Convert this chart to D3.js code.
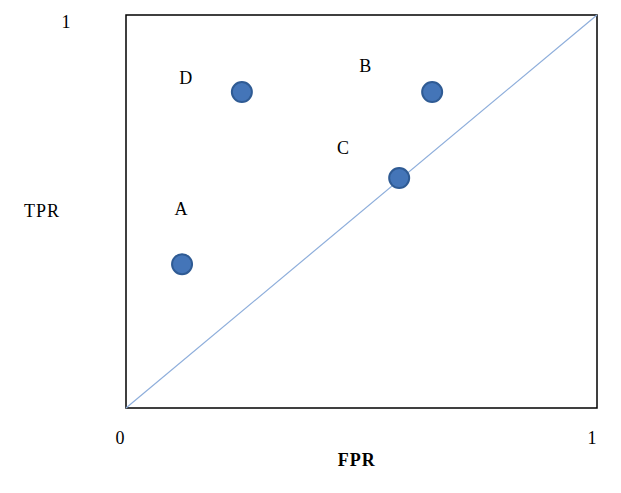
<!DOCTYPE html>
<html>
<head>
<meta charset="utf-8">
<script src="https://d3js.org/d3.v7.min.js"></script>
<style>
  body { margin: 0; background: white; }
  text { font-family: "Liberation Serif", "DejaVu Serif", serif; fill: #000; }
</style>
</head>
<body>
<svg id="roc" width="621" height="493"></svg>
<script>
// ROC space: four classifiers A-D

const names = ["A", "B", "C", "D"];
const fpr = [0.119, 0.65, 0.58, 0.246];
const tpr = [0.366, 0.804, 0.585, 0.804];
// where the letter sits (data units)
const labelX = [0.117, 0.508, 0.461, 0.127];
const labelY = [0.506, 0.87, 0.662, 0.84];
const tickLabels = ["0", "1"];

const margin = { top: 15, right: 24, bottom: 85, left: 126 };
const svg = d3.select("#roc");
const width = +svg.attr("width") - margin.left - margin.right;
const height = +svg.attr("height") - margin.top - margin.bottom;
const fs = 18;

const x = d3.scaleLinear().domain([0, 1]).range([0, width]);
const y = d3.scaleLinear().domain([0, 1]).range([height, 0]);

const g = svg.append("g")
  .attr("transform", `translate(${margin.left},${margin.top})`);

// frame
g.append("rect")
  .attr("x", x(0)).attr("y", y(1))
  .attr("width", x(1) - x(0)).attr("height", y(0) - y(1))
  .attr("fill", "none")
  .attr("stroke", "black")
  .attr("stroke-width", 1.5);

// random guess line
g.append("line")
  .attr("x1", x(0)).attr("y1", y(0))
  .attr("x2", x(1)).attr("y2", y(1))
  .attr("stroke", "#8eaedb")
  .attr("stroke-width", 1.2);

const pts = names.map((n, i) => ({ n, fx: fpr[i], ty: tpr[i], lx: labelX[i], ly: labelY[i] }));

g.selectAll("circle.pt").data(pts)
  .join("circle")
  .attr("class", "pt")
  .attr("cx", d => x(d.fx))
  .attr("cy", d => y(d.ty))
  .attr("r", 10)
  .attr("fill", "#4475b8")
  .attr("stroke", "#2f5b94")
  .attr("stroke-width", 2);

g.selectAll("text.lbl").data(pts)
  .join("text")
  .attr("class", "lbl")
  .attr("x", d => x(d.lx))
  .attr("y", d => y(d.ly))
  .attr("text-anchor", "middle")
  .attr("dominant-baseline", "central")
  .attr("font-size", fs)
  .text(d => d.n);

// axis tick labels
g.append("text")
  .attr("x", x(0) - 6).attr("y", y(0) + 30)
  .attr("text-anchor", "middle")
  .attr("dominant-baseline", "central")
  .attr("font-size", fs)
  .text(tickLabels[0]);
g.append("text")
  .attr("x", x(1) - 5).attr("y", y(0) + 30)
  .attr("text-anchor", "middle")
  .attr("dominant-baseline", "central")
  .attr("font-size", fs)
  .text(tickLabels[1]);
g.append("text")
  .attr("x", x(0) - 60).attr("y", y(1) + 7)
  .attr("text-anchor", "middle")
  .attr("dominant-baseline", "central")
  .attr("font-size", fs)
  .text(tickLabels[1]);

// axis titles
g.append("text")
  .attr("x", x(0) - 84).attr("y", y(0.5) - 1)
  .attr("text-anchor", "middle")
  .attr("dominant-baseline", "central")
  .attr("font-size", fs)
  .attr("letter-spacing", 1)
  .text("TPR");
g.append("text")
  .attr("x", x(0.49)).attr("y", y(0) + 52)
  .attr("text-anchor", "middle")
  .attr("dominant-baseline", "central")
  .attr("font-size", fs)
  .attr("font-weight", "bold")
  .attr("letter-spacing", 1)
  .text("FPR");
</script>
</body>
</html>
